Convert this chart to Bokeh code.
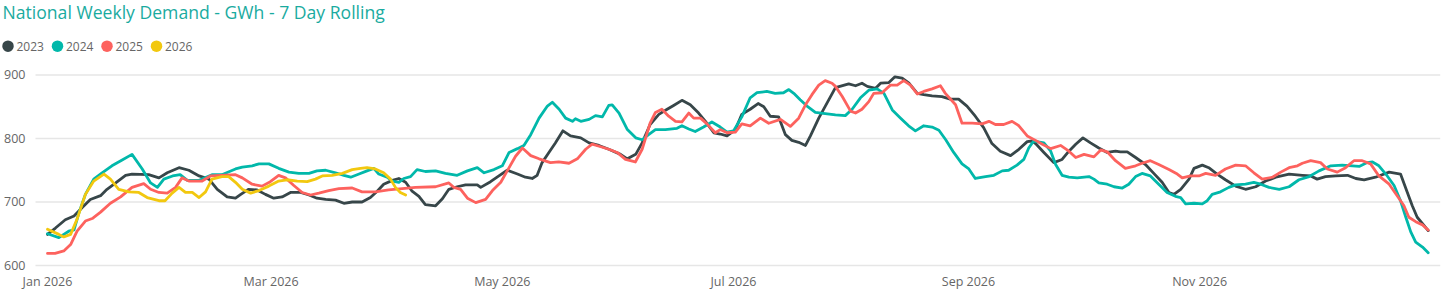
import pandas as pd
from bokeh.plotting import figure
from bokeh.models import Range1d, FixedTicker, DatetimeTickFormatter, ColumnDataSource
from bokeh.embed import file_html
from bokeh.resources import INLINE
from bokeh.core.properties import value

# ---------------- data ----------------
TITLE = "National Weekly Demand - GWh - 7 Day Rolling"
YEARS = ["2023", "2024", "2025", "2026"]
COLORS = ["#374649", "#01B8AA", "#FD625E", "#F2C80F"]
BASE_DATE = "2026-01-01"
TICK_DATES = ["2026-01-01", "2026-03-01", "2026-05-01", "2026-07-01", "2026-09-01", "2026-11-01"]
Y_TICKS = [600, 700, 800, 900]

# day offsets from 1 Jan and 7-day rolling demand (GWh)
days_2023 = [0, 2.1, 4.7, 7, 9.1, 11.3, 14, 15.7, 18, 20.6, 22.3, 26.7, 29.4, 31.6, 34.7, 37.3, 40, 42.6, 44.8, 47.4, 49.6,
             51, 53, 55.3, 57.5, 59.7, 61.9, 64.1, 66.8, 69, 71.1, 73.4, 76, 78.2, 80.4, 83, 85.2, 87, 88.7, 91, 92.7, 94.5, 96.2, 98, 99.7, 102.4,
             104.2, 105.9, 108.1, 110.3, 113.4, 114.3, 116.9, 119.1, 121.3, 124, 126.1, 127.9, 129.2, 130.5, 132.3, 134, 136, 138, 140.7, 142.9, 145.5, 148.1, 151.2, 153, 155.2,
             156.9, 159, 161.3, 163.5, 165.2, 167.4, 169.6, 171.8, 173.6, 175.8, 177.5, 179.3, 181.5, 183.2, 185.4, 187.5, 189, 190.7, 192.9, 194.7, 196.4, 198.2, 200, 201.3, 203.5, 205.7, 207.9,
             211.4, 213.2, 214.9, 216.3, 218.5, 219.8, 222, 223.6, 225.5, 227.3, 229.5, 231.2, 233.4, 236, 238.2, 240.4, 242.6, 244.8, 247, 249.2, 251.4, 254.1, 256.3, 258.5, 259.8, 260.7,
             262.9, 265.5, 267.7, 269.5, 271.3, 273.2, 275.2, 277.4, 279.6, 281.8, 283.1, 284.9, 287.1, 289.7, 291.9, 294.1, 295.9, 297.2, 299, 301.2, 302.5, 304.7, 306.4, 308.6, 310.8, 313.5,
             316.1, 318.8, 321.4, 324.1, 327.6, 331.1, 333.3, 335, 337.2, 339.9, 343, 345.2, 347.4, 350.4, 354, 357, 358.8, 360.1, 361.4, 362.8, 364.3]
vals_2023 = [649, 659, 672, 678, 691, 704, 710, 720, 730, 742, 744, 743, 738, 746, 754, 750, 741, 736, 720, 708, 706,
             712, 720, 719, 712, 706, 708, 715, 715, 711, 706, 704, 703, 698, 700, 700, 707, 717, 728, 734, 737, 731, 717, 709, 696, 694,
             705, 720, 724, 727, 727, 723, 732, 741, 750, 744, 739, 737, 742, 762, 778, 793, 812, 804, 801, 793, 789, 783, 775, 768, 775,
             793, 822, 838, 846, 852, 860, 853, 840, 827, 809, 807, 804, 814, 838, 846, 855, 850, 835, 834, 806, 797, 794, 789, 804, 832, 856, 880,
             886, 883, 887, 882, 879, 887, 888, 897, 895, 887, 871, 869, 867, 866, 862, 862, 851, 835, 817, 792, 780, 773, 783, 795, 796, 792,
             778, 762, 767, 780, 791, 801, 793, 785, 778, 780, 779, 779, 770, 759, 745, 731, 715, 712, 720, 736, 753, 758, 754, 744, 735, 725,
             720, 724, 733, 739, 744, 742, 741, 736, 740, 741, 742, 737, 735, 739, 747, 744, 715, 694, 676, 666, 655]

days_2024 = [0, 3, 5.6, 7, 8.3, 10, 12.2, 14.4, 17, 19.7, 22.3, 25, 27.2, 29, 30.7, 33, 35, 36.9, 40, 43.4, 46, 49.6,
             51.4, 54, 55.8, 58.4, 61, 63.7, 66.3, 69, 71.1, 73.4, 76, 78.2, 80, 82.2, 84.3, 86.1, 87.4, 89.6, 91, 92.7, 94, 95.8, 97.5, 99.7, 102.4,
             105, 108.1, 110.8, 113.4, 115.2, 117.8, 120, 121.8, 124, 125.7, 127.5, 129.7, 131.9, 133.2, 135, 136.7, 138.5, 139.3, 140.7, 142.9, 144.6, 146.4, 148.1, 149, 150.8, 153, 155.2,
             156.9, 158.6, 160.4, 163, 166.1, 167.4, 169.2, 170.9, 173.1, 175.3, 177.5, 179.3, 181, 183.2, 185.4, 187.2, 189.8, 192, 194.2, 195.6, 196.9, 198.6, 200.4, 202.6, 205.2, 207.9,
             210.5, 212.3, 214.5, 216.7, 218.9, 220.7, 222.9, 225.1, 227.2, 229, 231.2, 233.4, 235.2, 237, 239.1, 241.3, 243.1, 244.8, 247.5, 249.7, 251.9, 253.6, 255.8, 257.6, 258.9, 260.2,
             262.9, 264.7, 266, 267.7, 269.5, 271.7, 274.8, 276.1, 277.4, 279.6, 281.4, 283.6, 285.3, 287.1, 288.8, 291, 293.2, 295.4, 297.6, 299, 300.3, 302.5, 304.7, 306, 307.3, 309.5, 311.7, 313.5,
             316.1, 318.3, 320.1, 322.3, 325, 327.6, 330.2, 332.9, 335.5, 338.6, 341.6, 346.1, 348.2, 349.6, 351.3, 353.5, 355.3, 357, 358.4, 359.7, 361, 362.8, 364.3]
vals_2024 = [650, 644, 654, 656, 683, 712, 736, 746, 757, 766, 775, 752, 730, 723, 736, 741, 743, 734, 734, 743, 743, 752,
             755, 757, 760, 760, 753, 747, 745, 745, 749, 750, 746, 742, 739, 744, 749, 753, 744, 739, 733, 731, 737, 740, 751, 748, 749,
             745, 742, 749, 754, 746, 751, 757, 778, 784, 789, 806, 832, 851, 857, 846, 832, 827, 831, 827, 830, 836, 834, 852, 853, 840, 814, 801,
             798, 806, 814, 814, 816, 820, 815, 811, 818, 826, 818, 810, 812, 834, 864, 872, 874, 871, 872, 877, 871, 861, 851, 841, 839, 837,
             836, 846, 864, 876, 878, 871, 845, 832, 820, 812, 820, 818, 813, 798, 778, 760, 752, 737, 740, 742, 749, 750, 758, 767, 785, 796,
             793, 780, 759, 742, 739, 738, 740, 736, 730, 728, 724, 722, 728, 740, 745, 741, 728, 715, 709, 707, 697, 698, 697, 702, 712, 716, 723, 727,
             728, 731, 728, 723, 720, 724, 735, 740, 749, 757, 758, 756, 762, 763, 757, 741, 726, 702, 676, 653, 637, 629, 620]

days_2025 = [0, 2, 4.3, 6.1, 7.8, 10, 11.8, 14, 16.6, 19.3, 22.3, 25.4, 27.2, 29.4, 31.6, 33.8, 35.5, 37.3, 40.8, 43, 49.6,
             51.4, 54, 56.6, 58.8, 61, 62.8, 65, 67.2, 69.4, 71.6, 74.2, 76.9, 80.4, 83, 86.5, 90, 93.6, 97.1, 102.4,
             105.9, 107.2, 109, 110.8, 113, 115.6, 117.4, 119.6, 121.3, 123.5, 125.3, 127.5, 129.7, 132.7, 134.9, 137.6, 139.8, 142, 143.7, 146, 148.1, 150.3, 152.5, 155.1,
             156.9, 159, 160.4, 162.1, 163.9, 165.7, 167.4, 169.2, 170.5, 172.3, 174, 176.2, 177.5, 179.3, 181.5, 183.2, 185.4, 188.1, 190.3, 193.4, 196, 198.2, 200, 201.7, 203.5, 205.2, 207, 207.9,
             209.7, 211.9, 213.2, 214.9, 216.7, 218, 220.2, 222.4, 224.2, 225.9, 227.7, 229.5, 231.2, 233.4, 235.6, 236.9, 239.6, 241.3, 244, 246.6, 248.4, 250.1, 252.3, 254.5, 256.3, 258.5, 260.7,
             262.5, 264.7, 267.3, 269.5, 271.3, 273.5, 276.1, 277.9, 279.6, 281.8, 284.4, 287.1, 288.8, 291, 293.2, 295.9, 298.1, 299.4, 301.6, 303.8, 305.6, 308.2, 310.8, 313.5,
             316.1, 318.3, 320.5, 323.2, 325.4, 327.6, 329.8, 331.1, 333.3, 335.9, 337.7, 340.3, 342.5, 344.7, 346.9, 349.1, 351.3, 354, 356.2, 357.9, 359.2, 361, 362.8, 364.3]
vals_2025 = [619, 619, 623, 633, 654, 670, 674, 684, 698, 708, 723, 729, 720, 715, 714, 723, 738, 733, 733, 741, 743,
             738, 728, 725, 732, 742, 738, 726, 715, 711, 714, 718, 721, 722, 716, 716, 719, 721, 723, 724,
             730, 723, 720, 706, 699, 704, 718, 731, 749, 772, 785, 773, 768, 762, 763, 761, 768, 783, 791, 787, 783, 778, 767, 763,
             783, 824, 841, 846, 835, 827, 826, 840, 832, 832, 823, 809, 814, 809, 810, 823, 820, 832, 824, 830, 819, 832, 853, 869, 884, 891, 887, 882,
             866, 843, 840, 846, 858, 871, 872, 884, 884, 891, 884, 870, 874, 878, 883, 871, 853, 824, 824, 823, 827, 822, 822, 827, 820, 804, 797,
             791, 784, 789, 780, 770, 775, 771, 782, 779, 765, 753, 757, 761, 765, 759, 751, 744, 738, 741, 741, 745, 742, 752, 758,
             757, 746, 736, 739, 747, 754, 757, 761, 765, 762, 752, 747, 754, 765, 765, 760, 741, 728, 709, 694, 676, 669, 664, 656]

days_2026 = [0, 3, 4.3, 6.1, 7.8, 10, 12.2, 14.9, 16.6, 18.8, 21.5, 24.1, 26.3, 29.4, 31, 32.9, 34.7, 36.4, 38.2, 40, 41.7, 43.4, 46, 47.8, 49.6,
             51.4, 53.6, 55.8, 58.4, 61, 63.2, 65.9, 68.5, 70.7, 72.5, 75.1, 77.8, 80.4, 82.6, 84.3, 86.5, 88.7, 90.5, 91.8, 93.1, 94.5]
vals_2026 = [657, 649, 645, 649, 673, 712, 733, 744, 736, 720, 716, 715, 707, 702, 702, 714, 723, 715, 715, 707, 716, 736, 740, 740, 731,
             720, 714, 718, 725, 733, 735, 733, 732, 736, 741, 742, 745, 751, 753, 754, 752, 746, 736, 723, 715, 711]

SERIES_DAYS = [days_2023, days_2024, days_2025, days_2026]
SERIES_VALS = [vals_2023, vals_2024, vals_2025, vals_2026]

# ---------------- styling / layout (page pixels) ----------------
FONT = "Open Sans"
TITLE_COLOR = "#1AAB9F"
LABEL_COLOR = "#666666"
GRID_COLOR = "#E6E6E6"
W, H = 1455, 292
BORDER_R, BORDER_B = 15, 22
PX_JAN1 = 47.0        # page x of 1 Jan
PX_PER_DAY = 3.79
PY_900, PX_PER_UNIT = 75.0, 0.64   # page y of the 900 line, pixels per GWh
PLOT_LEFT = 35        # where the gridlines begin

base = pd.Timestamp(BASE_DATE)


def page_x(px):
    return base + pd.Timedelta(days=(px - PX_JAN1) / PX_PER_DAY)


def page_y(py):
    return 900 - (py - PY_900) / PX_PER_UNIT


p = figure(width=W, height=H, x_axis_type="datetime",
           x_range=Range1d(page_x(0), page_x(W - BORDER_R)),
           y_range=Range1d(page_y(H - BORDER_B), page_y(0)),
           toolbar_location=None, output_backend="svg",
           min_border_left=0, min_border_right=BORDER_R, min_border_top=0, min_border_bottom=BORDER_B)
p.outline_line_color = None
p.grid.visible = False

# horizontal gridlines (start where the plot area starts)
p.segment(x0=[page_x(PLOT_LEFT)] * len(Y_TICKS), x1=[page_x(W - BORDER_R)] * len(Y_TICKS),
          y0=Y_TICKS, y1=Y_TICKS, line_color=GRID_COLOR, line_width=1.5)

for yr, col, d, v in zip(YEARS, COLORS, SERIES_DAYS, SERIES_VALS):
    xs = [base + pd.Timedelta(days=float(k)) for k in d]
    src = ColumnDataSource(dict(x=xs, y=v))
    p.line("x", "y", source=src, line_color=col, line_width=2.8, line_join="round", line_cap="round")

# title
p.text(x=[page_x(2)], y=[page_y(11.5)], text=[TITLE], text_font=value(FONT), text_font_size="17.6px",
       text_color=TITLE_COLOR, text_baseline="middle", text_align="left")

# legend: coloured dots + year labels
leg_px = [7.5 + 49.5 * i for i in range(len(YEARS))]
p.scatter(x=[page_x(c) for c in leg_px], y=[page_y(46)] * len(YEARS), size=11.5,
          color=COLORS, line_color=None)
p.text(x=[page_x(c + 8.5) for c in leg_px], y=[page_y(46)] * len(YEARS), text=YEARS,
       text_font=value(FONT), text_font_size="12px", text_color=LABEL_COLOR,
       text_baseline="middle", text_align="left")

p.xaxis.ticker = FixedTicker(ticks=[pd.Timestamp(t).value / 1e6 for t in TICK_DATES])
p.xaxis.formatter = DatetimeTickFormatter(years="%b %Y", months="%b %Y", days="%b %Y", hours="%b %Y")
p.yaxis.ticker = FixedTicker(ticks=Y_TICKS)
for ax in (p.xaxis, p.yaxis):
    ax.axis_line_color = None
    ax.major_tick_line_color = None
    ax.minor_tick_line_color = None
    ax.major_tick_out = 0
    ax.major_tick_in = 0
    ax.minor_tick_out = 0
    ax.minor_tick_in = 0
    ax.major_label_text_font = FONT
    ax.major_label_text_font_size = "12.5px"
    ax.major_label_text_color = LABEL_COLOR
p.xaxis.major_label_standoff = 4
p.yaxis.major_label_standoff = -25   # labels sit left of the plot area, inside the margin

open("out.html", "w").write(file_html(p, INLINE))
